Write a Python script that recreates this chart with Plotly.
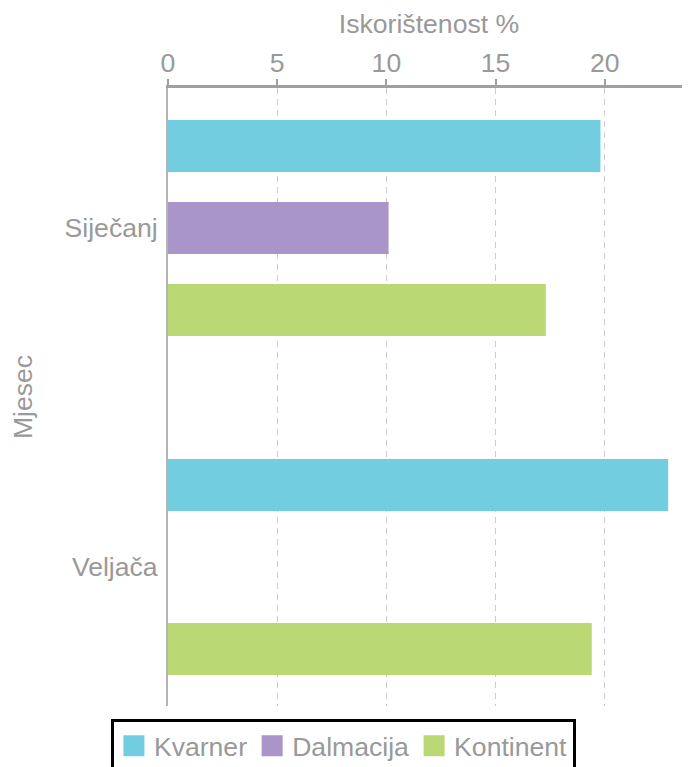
import plotly.graph_objects as go

months = ["Siječanj", "Veljača"]
series = ["Kvarner", "Dalmacija", "Kontinent"]
kvarner = [19.8, 22.9]
dalmacija = [10.1, None]
kontinent = [17.3, 19.4]
colors = ["#72cde0", "#aa95c8", "#bad874"]
x_ticks = [0, 5, 10, 15, 20]

values = [kvarner, dalmacija, kontinent]
FONT = "Liberation Sans, Arial, Helvetica, sans-serif"
GRAY = "#999999"
FS = 26.6

fig = go.Figure()
for name, vals, col in zip(series, values, colors):
    fig.add_trace(go.Bar(
        y=months, x=vals, name=name, orientation="h",
        marker=dict(color=col, line=dict(width=0)),
        showlegend=False,
    ))
# legend proxies (bigger squares)
for name, col in zip(series, colors):
    fig.add_trace(go.Scatter(
        x=[None], y=[None], mode="markers", name=name,
        marker=dict(symbol="square", size=16, color=col,
                    line=dict(width=5, color=col)),
        showlegend=True, hoverinfo="skip",
    ))

fig.update_layout(
    width=690, height=767,
    margin=dict(l=160, r=8, t=80, b=69, autoexpand=False),
    paper_bgcolor="white", plot_bgcolor="white",
    font=dict(family=FONT, size=FS, color=GRAY),
    barmode="group", bargap=0.274, bargroupgap=0.366,
    showlegend=True,
    legend=dict(
        orientation="h", x=0.336, xanchor="center", y=-0.021, yanchor="top",
        bordercolor="black", borderwidth=3,
        font=dict(family=FONT, size=FS, color=GRAY),
        itemclick=False,
    ),
    xaxis=dict(
        side="top", range=[0, 23.9], tickvals=x_ticks, automargin=False,
        ticks="outside", ticklen=6, tickwidth=2, tickcolor="#a0a0a0",
        showline=True, linecolor="#a0a0a0", linewidth=3,
        showgrid=True, gridcolor="#cccccc", gridwidth=1, griddash="6px,5px",
        zeroline=False,
        tickfont=dict(size=FS, color=GRAY),
        ticklabelstandoff=-4,
        title=dict(text="Iskorištenost %", font=dict(size=FS, color=GRAY), standoff=8),
    ),
    yaxis=dict(
        type="category", categoryorder="array", categoryarray=months,
        range=[1.41, -0.413], automargin=False,
        showline=True, linecolor="#b5b5b5", linewidth=2,
        showgrid=False, zeroline=False, ticks="",
        tickfont=dict(size=FS, color=GRAY),
        ticklabelstandoff=3,
        title=dict(text="Mjesec", font=dict(size=FS, color=GRAY), standoff=36),
    ),
)

fig.write_html("out.html")
